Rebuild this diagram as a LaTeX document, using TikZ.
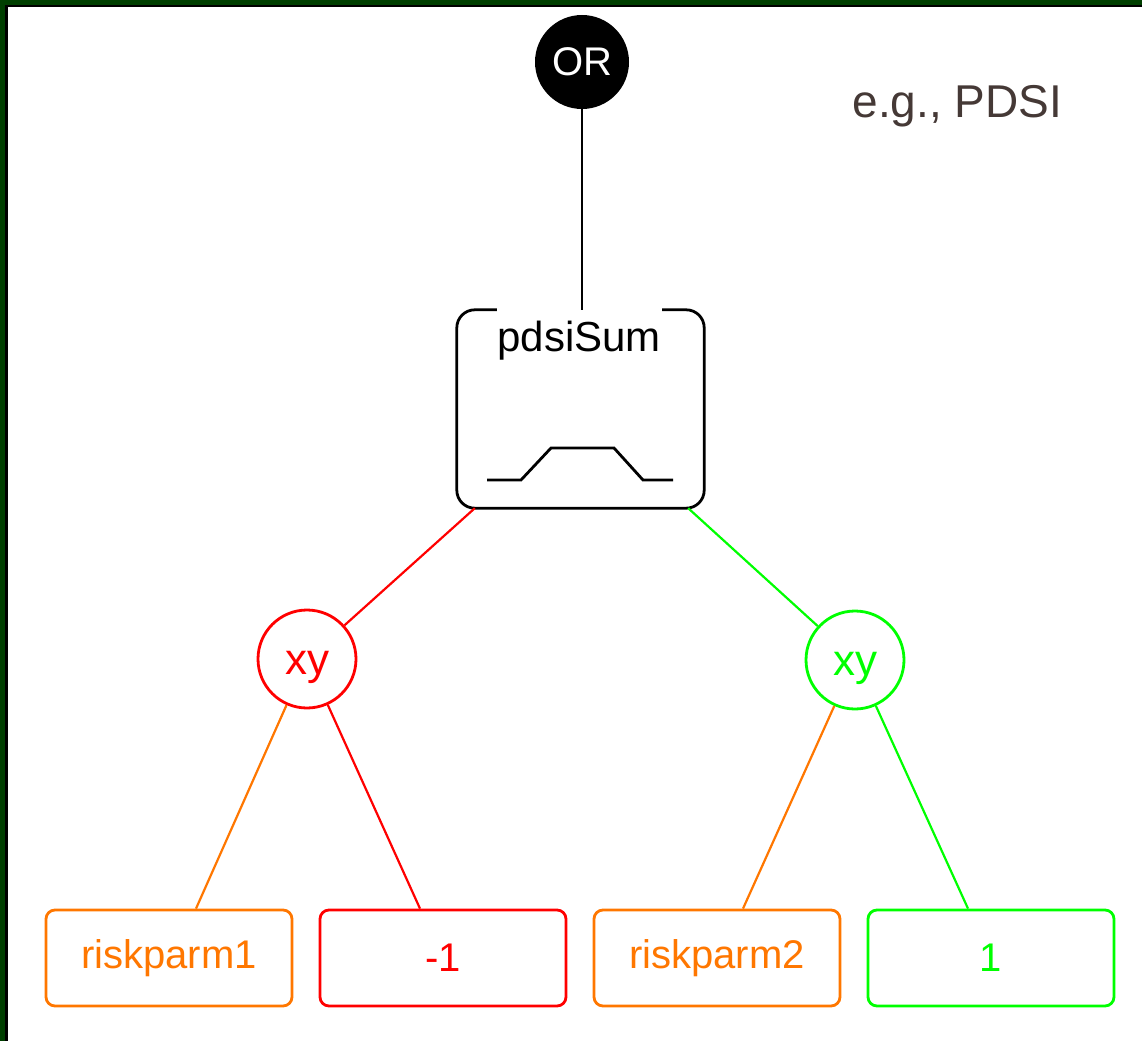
\documentclass[tikz,border=0pt]{standalone}
\usepackage{fontspec}
\setmainfont{Liberation Sans}
\definecolor{framegreen}{HTML}{003F00}
\definecolor{orng}{HTML}{FF7700}
\definecolor{grn}{HTML}{00FF00}
\definecolor{rd}{HTML}{FF0000}
\definecolor{notebrown}{HTML}{453936}
\begin{document}
\begin{tikzpicture}[x=1pt,y=-1pt,
  orgate/.style={circle, fill=black, minimum size=94pt, inner sep=0pt,
    text=white, font=\fontsize{40}{40}\selectfont},
  xyop/.style={circle, line width=2.8pt, minimum size=98pt, inner sep=0pt},
  xylabel/.style={anchor=base, inner sep=0pt, font=\fontsize{44}{44}\selectfont},
  leaf/.style={rectangle, rounded corners=9pt, line width=2.8pt,
    minimum width=246pt, minimum height=96pt, inner sep=0pt,
    font=\fontsize{40}{40}\selectfont},
  wire/.style={line width=2.2pt}
]
\useasboundingbox (0,0) rectangle (1142,1041);
\fill[white] (0,0) rectangle (1142,1041);
% window frame along the top and left edges
\fill[framegreen] (0,0) rectangle (1142,5);
\fill[framegreen] (0,0) rectangle (5,1041);
\fill[black] (5,5) rectangle (1142,7);
\fill[black] (5,5) rectangle (8,1041);

% root operator
\node[orgate] (or) at (582,62) {OR};

% summing block with an open top edge
\node[minimum width=247pt, minimum height=198pt, inner sep=0pt] (sum) at (580.5,409) {};
\draw[line width=2.8pt, rounded corners=18pt]
  ([xshift=40pt]sum.north west) -- (sum.north west) -- (sum.south west)
  -- (sum.south east) -- (sum.north east) -- ([xshift=-42pt]sum.north east);
\node[anchor=base, font=\fontsize{42}{42}\selectfont] (sumlabel) at (579,351) {pdsiSum};
\draw[line width=2.8pt] (487,480) -- (521,480) -- (551,448) -- (614,448) -- (643,480) -- (673,480);

\draw[line width=2.4pt] (or.south) -- (or.south |- sum.north);

% product operators
\node[xyop, draw=rd] (xl) at (307,659) {};
\node[xyop, draw=grn] (xr) at (855,660) {};
\node[xylabel, text=rd] (xllabel) at (307,674) {xy};
\node[xylabel, text=grn] (xrlabel) at (855,675) {xy};

\draw[wire, rd] ([xshift=18pt]sum.south west) -- (xl);
\draw[wire, grn] ([xshift=-16pt]sum.south east) -- (xr);

% leaves
\node[leaf, draw=orng, text=orng] (r1) at (169,958) {riskparm1};
\node[leaf, draw=rd, text=rd] (m1) at (443,958) {-1};
\node[leaf, draw=orng, text=orng] (r2) at (717,958) {riskparm2};
\node[leaf, draw=grn, text=grn] (p1) at (991,958) {1};

\draw[wire, orng] ([xshift=27pt]r1.north) -- (xl);
\draw[wire, rd] ([xshift=-23pt]m1.north) -- (xl);
\draw[wire, orng] ([xshift=26pt]r2.north) -- (xr);
\draw[wire, grn] ([xshift=-23pt]p1.north) -- (xr);

% annotation
\node[anchor=base west, text=notebrown, font=\fontsize{46}{46}\selectfont] (eg) at (849,117) {e.g., PDSI};
\end{tikzpicture}
\end{document}
